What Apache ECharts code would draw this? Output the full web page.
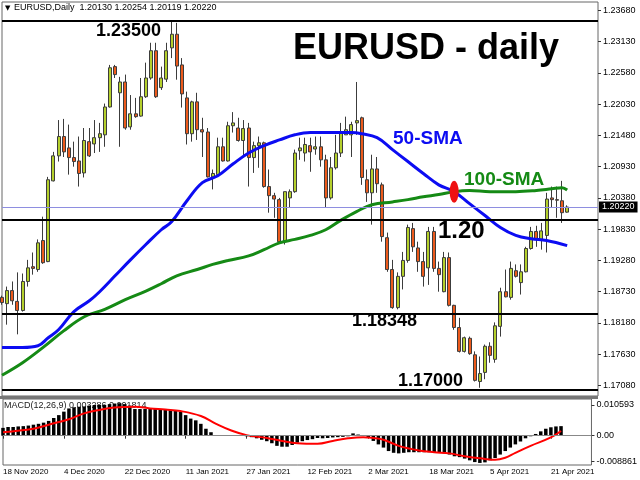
<!DOCTYPE html>
<html><head><meta charset="utf-8">
<script src="https://cdn.jsdelivr.net/npm/echarts@6/dist/echarts.min.js"></script>
<style>html,body{margin:0;padding:0;background:#fff}#c{width:640px;height:480px}</style>
</head><body><div id="c"></div>
<script>
const dates = ['18 Nov 2020','19 Nov 2020','20 Nov 2020','23 Nov 2020','24 Nov 2020','25 Nov 2020','26 Nov 2020','27 Nov 2020','30 Nov 2020',
'1 Dec 2020','2 Dec 2020','3 Dec 2020','4 Dec 2020','7 Dec 2020','8 Dec 2020','9 Dec 2020','10 Dec 2020','11 Dec 2020','14 Dec 2020','15 Dec 2020','16 Dec 2020','17 Dec 2020','18 Dec 2020','21 Dec 2020','22 Dec 2020','23 Dec 2020','24 Dec 2020','28 Dec 2020','29 Dec 2020','30 Dec 2020','31 Dec 2020',
'4 Jan 2021','5 Jan 2021','6 Jan 2021','7 Jan 2021','8 Jan 2021','11 Jan 2021','12 Jan 2021','13 Jan 2021','14 Jan 2021','15 Jan 2021','18 Jan 2021','19 Jan 2021','20 Jan 2021','21 Jan 2021','22 Jan 2021','25 Jan 2021','26 Jan 2021','27 Jan 2021','28 Jan 2021','29 Jan 2021',
'1 Feb 2021','2 Feb 2021','3 Feb 2021','4 Feb 2021','5 Feb 2021','8 Feb 2021','9 Feb 2021','10 Feb 2021','11 Feb 2021','12 Feb 2021','15 Feb 2021','16 Feb 2021','17 Feb 2021','18 Feb 2021','19 Feb 2021','22 Feb 2021','23 Feb 2021','24 Feb 2021','25 Feb 2021','26 Feb 2021',
'1 Mar 2021','2 Mar 2021','3 Mar 2021','4 Mar 2021','5 Mar 2021','8 Mar 2021','9 Mar 2021','10 Mar 2021','11 Mar 2021','12 Mar 2021','15 Mar 2021','16 Mar 2021','17 Mar 2021','18 Mar 2021','19 Mar 2021','22 Mar 2021','23 Mar 2021','24 Mar 2021','25 Mar 2021','26 Mar 2021','29 Mar 2021','30 Mar 2021','31 Mar 2021',
'1 Apr 2021','2 Apr 2021','5 Apr 2021','6 Apr 2021','7 Apr 2021','8 Apr 2021','9 Apr 2021','12 Apr 2021','13 Apr 2021','14 Apr 2021','15 Apr 2021','16 Apr 2021','19 Apr 2021','20 Apr 2021','21 Apr 2021','22 Apr 2021','23 Apr 2021',
'26 Apr 2021','27 Apr 2021','28 Apr 2021','29 Apr 2021','30 Apr 2021','3 May 2021'];

// [open, close, low, high]
const candles = [
[1.1863,1.1854,1.1850,1.1866],[1.1852,1.1875,1.1815,1.1882],[1.1875,1.1857,1.1850,1.1891],[1.1856,1.1840,1.1798,1.1907],
[1.1840,1.1891,1.1838,1.1905],[1.1891,1.1915,1.1882,1.1929],[1.1917,1.1914,1.1903,1.1942],[1.1912,1.1959,1.1908,1.1965],
[1.1963,1.1924,1.1922,1.2005],[1.1926,1.2070,1.1925,1.2075],[1.2068,1.2112,1.2067,1.2119],[1.2112,1.2146,1.2102,1.2175],
[1.2146,1.2119,1.2110,1.2177],[1.2126,1.2109,1.2079,1.2167],[1.2109,1.2102,1.2093,1.2137],[1.2103,1.2081,1.2058,1.2146],
[1.2082,1.2139,1.2074,1.2161],[1.2137,1.2112,1.2110,1.2161],[1.2133,1.2144,1.2117,1.2175],[1.2144,1.2151,1.2119,1.2170],
[1.2149,1.2198,1.2128,1.2204],[1.2198,1.2267,1.2197,1.2272],[1.2269,1.2255,1.2249,1.2272],[1.2223,1.2242,1.2128,1.2251],
[1.2242,1.2161,1.2158,1.2255],[1.2163,1.2186,1.2158,1.2219],[1.2186,1.2181,1.2179,1.2214],[1.2182,1.2216,1.2181,1.2249],
[1.2216,1.2249,1.2214,1.2276],[1.2249,1.2297,1.2246,1.2311],[1.2297,1.2216,1.2214,1.2311],[1.2232,1.2249,1.2228,1.2269],
[1.2247,1.2297,1.2242,1.2311],[1.2302,1.2326,1.2284,1.2351],[1.2326,1.2270,1.2246,1.2346],[1.2272,1.2221,1.2197,1.2284],
[1.2214,1.2151,1.2132,1.2225],[1.2151,1.2207,1.2137,1.2209],[1.2207,1.2158,1.2140,1.2223],[1.2158,1.2154,1.2110,1.2179],
[1.2154,1.2075,1.2074,1.2161],[1.2075,1.2081,1.2053,1.2088],[1.2079,1.2128,1.2075,1.2144],[1.2128,1.2103,1.2102,1.2144],
[1.2103,1.2165,1.2102,1.2172],[1.2165,1.2170,1.2153,1.2189],[1.2161,1.2139,1.2137,1.2179],[1.2139,1.2160,1.2109,1.2175],
[1.2161,1.2109,1.2058,1.2170],[1.2109,1.2130,1.2082,1.2137],[1.2130,1.2135,1.2091,1.2146],[1.2135,1.2058,1.2056,1.2137],
[1.2058,1.2042,1.2012,1.2088],[1.2042,1.2036,1.2003,1.2047],[1.2035,1.1961,1.1959,1.2038],[1.1961,1.2049,1.1956,1.2049],
[1.2038,1.2049,1.2021,1.2053],[1.2049,1.2117,1.2047,1.2123],[1.2121,1.2126,1.2105,1.2144],[1.2117,1.2132,1.2102,1.2144],
[1.2130,1.2119,1.2084,1.2144],[1.2124,1.2128,1.2114,1.2146],[1.2128,1.2105,1.2093,1.2146],[1.2105,1.2038,1.2022,1.2114],
[1.2038,1.2091,1.2035,1.2110],[1.2091,1.2117,1.2088,1.2149],[1.2117,1.2154,1.2110,1.2170],[1.2149,1.2158,1.2149,1.2181],
[1.2149,1.2167,1.2110,1.2172],[1.2170,1.2174,1.2149,1.2242],[1.2179,1.2074,1.2061,1.2181],[1.2070,1.2047,1.2031,1.2088],
[1.2047,1.2089,1.1991,1.2114],[1.2089,1.2063,1.2047,1.2110],[1.2061,1.1970,1.1961,1.2065],[1.1968,1.1912,1.1908,1.1977],
[1.1912,1.1845,1.1843,1.1929],[1.1845,1.1900,1.1842,1.1907],[1.1900,1.1928,1.1877,1.1943],[1.1928,1.1986,1.1924,1.1991],
[1.1984,1.1952,1.1943,1.1994],[1.1950,1.1926,1.1908,1.1961],[1.1926,1.1900,1.1882,1.1943],[1.1915,1.1979,1.1885,1.1987],
[1.1979,1.1914,1.1908,1.1987],[1.1914,1.1903,1.1873,1.1926],[1.1873,1.1933,1.1872,1.1943],[1.1933,1.1849,1.1847,1.1942],
[1.1849,1.1810,1.1806,1.1850],[1.1810,1.1768,1.1766,1.1827],[1.1768,1.1792,1.1766,1.1794],[1.1791,1.1764,1.1762,1.1794],
[1.1762,1.1717,1.1715,1.1768],[1.1715,1.1729,1.1704,1.1759],[1.1731,1.1777,1.1719,1.1780],[1.1777,1.1761,1.1748,1.1784],
[1.1754,1.1813,1.1748,1.1819],[1.1812,1.1873,1.1794,1.1880],[1.1873,1.1864,1.1863,1.1912],[1.1863,1.1914,1.1859,1.1926],
[1.1910,1.1900,1.1898,1.1921],[1.1889,1.1908,1.1868,1.1921],[1.1908,1.1949,1.1907,1.1952],[1.1949,1.1979,1.1947,1.1987],
[1.1979,1.1965,1.1952,1.1989],[1.1965,1.1980,1.1947,1.1994],[1.1972,1.2036,1.1942,1.2047],[1.2038,1.2035,1.2021,1.2058],
[1.2035,1.2034,1.2003,1.2058],[1.2033,1.2012,1.1994,1.2068],[1.2013,1.2022,1.2012,1.2025]
];

// moving averages: [bar index, value]
const sma50 = [[0,1.1775],[4,1.1775],[7,1.1778],[9,1.1792],[11,1.1806],[14,1.1838],[17,1.1857],[19,1.1873],[22,1.1901],[25,1.1929],[28,1.1956],[31,1.1982],[33,1.1996],[36,1.2033],[39,1.2065],[42,1.2077],[45,1.2098],[48,1.2117],[51,1.2130],[54,1.2140],[57,1.2149],[60,1.2153],[64,1.2153],[68,1.2153],[70,1.2151],[73,1.2144],[76,1.2123],[79,1.2102],[82,1.2081],[85,1.2061],[88,1.2049],[91,1.2028],[94,1.2007],[97,1.1986],[100,1.1972],[103,1.1966],[106,1.1963],[110,1.1954]];
const sma100 = [[0,1.1726],[4,1.1748],[8,1.1775],[12,1.1804],[16,1.1829],[20,1.1842],[24,1.1859],[28,1.1874],[31,1.1887],[34,1.1901],[38,1.1912],[41,1.1921],[44,1.1928],[48,1.1936],[51,1.1947],[54,1.1959],[57,1.1965],[60,1.1972],[63,1.1982],[66,1.1999],[69,1.2014],[72,1.2026],[76,1.2031],[79,1.2035],[82,1.2040],[85,1.2044],[88,1.2049],[91,1.2051],[95,1.2049],[100,1.2049],[104,1.2051],[107,1.2054],[109,1.2056],[110,1.2052]];

const macdHist = [0.0027,0.0030,0.0030,0.0032,0.0033,0.0035,0.0038,0.0041,0.0045,0.0051,
0.0061,0.0071,0.0083,0.0094,0.0098,0.0100,0.0101,0.0104,0.0106,0.0106,
0.0106,0.0109,0.0111,0.0112,0.0109,0.0104,0.0092,0.0092,0.0092,0.0094,
0.0092,0.0090,0.0090,0.0089,0.0087,0.0083,0.0071,0.0059,0.0053,0.0041,
0.0024,0.0012,0.0002,0.0001,0.0001,-0.0001,0.0000,-0.0001,-0.0002,-0.0005,
-0.0009,-0.0014,-0.0019,-0.0026,-0.0035,-0.0038,-0.0038,-0.0032,-0.0024,-0.0019,
-0.0015,-0.0012,-0.0008,-0.0009,-0.0008,-0.0006,-0.0005,-0.0004,-0.0002,0.0008,
0.0004,-0.0001,-0.0005,-0.0018,-0.0030,-0.0041,-0.0053,-0.0059,-0.0061,-0.0059,
-0.0057,-0.0057,-0.0057,-0.0057,-0.0057,-0.0059,-0.0059,-0.0061,-0.0065,-0.0071,
-0.0074,-0.0079,-0.0085,-0.0091,-0.0094,-0.0092,-0.0085,-0.0077,-0.0065,-0.0053,
-0.0041,-0.0030,-0.0020,-0.0009,-0.0002,0.0006,0.0015,0.0024,0.0029,0.0032,0.0033];
const macdSignal = [[0,0.0012],[6,0.0024],[9,0.0038],[13,0.0057],[16,0.0077],[19,0.0089],[22,0.0097],[26,0.0100],[29,0.0094],[32,0.0090],[35,0.0085],[39,0.0068],[42,0.0041],[45,0.0018],[48,0.0002],[52,-0.0008],[55,-0.0018],[58,-0.0026],[62,-0.0028],[65,-0.0018],[68,-0.0009],[71,-0.0005],[73,-0.0008],[75,-0.0014],[78,-0.0035],[82,-0.0051],[85,-0.0057],[88,-0.0061],[91,-0.0071],[95,-0.0080],[97,-0.0083],[99,-0.0076],[101,-0.0059],[104,-0.0035],[108,-0.0006],[110,0.0016]];

const priceTicks = [1.17080,1.17630,1.18180,1.18730,1.19280,1.19830,1.20380,1.20930,1.21480,1.22030,1.22580,1.23130,1.23680];
const macdTicks = [-0.008861,0,0.010593];
const levels = [1.23500,1.20000,1.18348,1.17000];
const bidPrice = 1.20220;
const crossIndex = 88, crossValue = 1.2049;

const FONT = '"Liberation Sans", Arial, sans-serif';
const showLabel = (i) => i % 12 === 0 && i <= 108;

const chart = echarts.init(document.getElementById('c'));
const levelLines = levels.map(v => ({yAxis: v, lineStyle: {color: '#000', width: 2, type: 'solid'}, label: {show: false}}));
levelLines.unshift({yAxis: bidPrice, lineStyle: {color: '#8e8ee0', width: 1, type: 'solid'},
  label: {show: true, position: 'end', distance: 1, formatter: bidPrice.toFixed(5), backgroundColor: '#000', color: '#fff',
    fontFamily: FONT, fontSize: 9, padding: [1, 3, 1, 3]}});

chart.setOption({
  animation: false,
  backgroundColor: '#fff',
  grid: [
    {left: 2, top: 2, width: 596, height: 394, show: true, borderColor: '#666', borderWidth: 1},
    {left: 2, top: 399, width: 596, height: 66, show: true, borderColor: '#666', borderWidth: 1}
  ],
  xAxis: [
    {type: 'category', gridIndex: 0, data: dates, boundaryGap: false,
      axisLine: {show: false}, axisTick: {show: false}, axisLabel: {show: false}, splitLine: {show: false}},
    {type: 'category', gridIndex: 1, data: dates, boundaryGap: false,
      axisLine: {show: false},
      axisTick: {show: true, interval: showLabel, length: 3, lineStyle: {color: '#333'}},
      axisLabel: {interval: showLabel, align: 'left', margin: 3, fontFamily: FONT, fontSize: 8, color: '#000'},
      splitLine: {show: false}}
  ],
  yAxis: [
    {type: 'value', gridIndex: 0, position: 'right', min: 1.16895, max: 1.23827,
      splitLine: {show: false}, axisLine: {show: false},
      axisTick: {show: true, customValues: priceTicks, length: 3, lineStyle: {color: '#333'}},
      axisLabel: {customValues: priceTicks, formatter: v => v.toFixed(5), fontFamily: FONT, fontSize: 9, color: '#000', margin: 5}},
    {type: 'value', gridIndex: 1, position: 'right', min: -0.010109, max: 0.012662,
      splitLine: {show: false}, axisLine: {show: false},
      axisTick: {show: true, customValues: macdTicks, length: 3, lineStyle: {color: '#333'}},
      axisLabel: {customValues: macdTicks, formatter: v => Math.abs(v) < 1e-9 ? '0.00' : v.toFixed(6), fontFamily: FONT, fontSize: 9, color: '#000', margin: 5}}
  ],
  series: [
    {type: 'candlestick', name: 'EURUSD', xAxisIndex: 0, yAxisIndex: 0, data: candles, barWidth: 3.5,
      itemStyle: {color: '#b4cf2c', color0: '#ec5a1c', borderColor: '#3c3c3c', borderColor0: '#3c3c3c', borderWidth: 1}},
    {type: 'line', name: 'levels', xAxisIndex: 0, yAxisIndex: 0, data: sma50, showSymbol: false,
      lineStyle: {opacity: 0}, silent: true, z: 1,
      markLine: {silent: true, precision: 5, symbol: ['none', 'none'], animation: false, data: levelLines}},
    {type: 'line', name: '50-SMA', xAxisIndex: 0, yAxisIndex: 0, data: sma50, smooth: 0.4, showSymbol: false,
      lineStyle: {color: '#0c0cf2', width: 3}},
    {type: 'line', name: '100-SMA', xAxisIndex: 0, yAxisIndex: 0, data: sma100, smooth: 0.4, showSymbol: false,
      lineStyle: {color: '#158a15', width: 3},
      markPoint: {silent: true, symbol: 'circle', symbolSize: [9, 22], itemStyle: {color: '#ee1111'}, label: {show: false},
        data: [{coord: [crossIndex, crossValue]}]}},
    {type: 'bar', name: 'MACD', xAxisIndex: 1, yAxisIndex: 1, data: macdHist, barWidth: 3.5,
      itemStyle: {color: '#000'},
      markLine: {silent: true, precision: 6, symbol: ['none', 'none'], label: {show: false}, lineStyle: {color: '#888', width: 1, type: 'solid'}, data: [{yAxis: 0}]}},
    {type: 'line', name: 'Signal', xAxisIndex: 1, yAxisIndex: 1, data: macdSignal, smooth: 0.4, showSymbol: false,
      lineStyle: {color: '#ff0000', width: 2}}
  ],
  graphic: [
    {type: 'rect', shape: {x: 0, y: 396, width: 598, height: 3}, style: {fill: '#777'}, z: 5},
    {type: 'text', x: 5, y: 8, style: {text: '▼', font: '7px "DejaVu Sans"', fill: '#000', verticalAlign: 'middle'}, z: 5},
    {type: 'text', x: 14, y: 8, style: {text: 'EURUSD,Daily  1.20130 1.20254 1.20119 1.20220', font: '9px ' + FONT, fill: '#000', verticalAlign: 'middle'}, z: 5},
    {type: 'text', x: 4, y: 406, style: {text: 'MACD(12,26,9) 0.003286 0.001814', font: '9px ' + FONT, fill: '#222', verticalAlign: 'middle'}, z: 0},
    {type: 'text', x: 293, y: 49, style: {text: 'EURUSD - daily', font: 'bold 36px ' + FONT, fill: '#000', verticalAlign: 'middle'}, z: 10},
    {type: 'text', x: 96, y: 31, style: {text: '1.23500', font: 'bold 18px ' + FONT, fill: '#000', verticalAlign: 'middle'}, z: 10},
    {type: 'text', x: 393, y: 139, style: {text: '50-SMA', font: 'bold 19px ' + FONT, fill: '#0c0cf2', verticalAlign: 'middle'}, z: 10},
    {type: 'text', x: 464, y: 180, style: {text: '100-SMA', font: 'bold 19px ' + FONT, fill: '#158a15', verticalAlign: 'middle'}, z: 10},
    {type: 'text', x: 438, y: 231, style: {text: '1.20', font: 'bold 24px ' + FONT, fill: '#000', verticalAlign: 'middle'}, z: 10},
    {type: 'text', x: 352, y: 321, style: {text: '1.18348', font: 'bold 18px ' + FONT, fill: '#000', verticalAlign: 'middle'}, z: 10},
    {type: 'text', x: 398, y: 381, style: {text: '1.17000', font: 'bold 18px ' + FONT, fill: '#000', verticalAlign: 'middle'}, z: 10}
  ]
});
</script>
</body></html>
